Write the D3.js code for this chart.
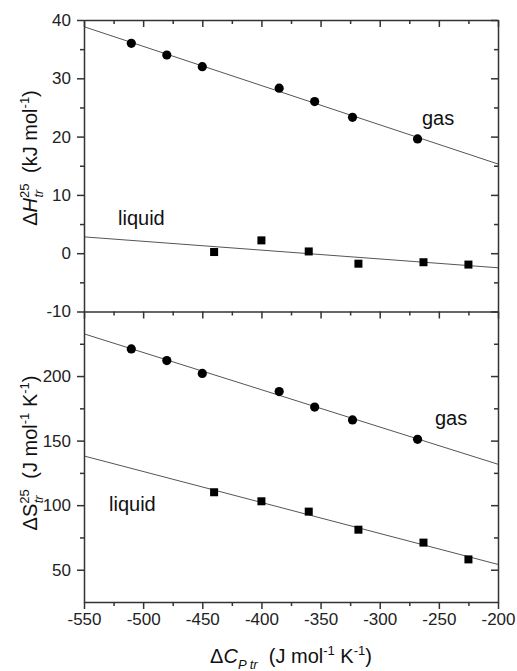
<!DOCTYPE html>
<html>
<head>
<meta charset="utf-8">
<script src="https://cdn.jsdelivr.net/npm/d3@7"></script>
<style>
  body { margin: 0; background: #fff; }
  svg { font-family: "Liberation Sans", Arial, sans-serif; }
  .axis path, .axis line { stroke: #333; stroke-width: 1.5; }
  .axis text { font-size: 17px; fill: #222; font-family: "Liberation Sans", Arial, sans-serif; }
</style>
</head>
<body>
<div id="chart"></div>
<script>
'use strict';

// data
const xGas = [-510, -480, -450, -385, -355, -323, -268];
const xLiq = [-440, -400, -360, -318, -263, -225];
const dHGas = [36, 34, 32, 28.3, 26, 23.3, 19.6];
const dHLiq = [0.2, 2.2, 0.3, -1.8, -1.55, -1.95];
const dSGas = [221, 212, 202, 188, 176, 166, 151];
const dSLiq = [110, 103, 95, 81, 71, 58];

// fitted lines, values at the ends of the x range
const fitX = [-550, -200];
const dHGasFit = [38.85, 15.3];
const dHLiqFit = [2.8, -2.5];
const dSGasFit = [232.7, 131.7];
const dSLiqFit = [138.1, 54.1];

// ticks
const xMajor = [-550, -500, -450, -400, -350, -300, -250, -200];
const xMinor = [-525, -475, -425, -375, -325, -275, -225];
const hMajor = [-10, 0, 10, 20, 30, 40];
const hMinor = [-5, 5, 15, 25, 35];
const sMajor = [50, 100, 150, 200];
const sMinor = [75, 125, 175, 225];

const width = 517;
const height = 671;
const left = 84, right = 498;

// plain hyphen for negatives, like the original
const fmt = d => String(d);

const svg = d3.select('#chart')
    .append('svg')
    .attr('width', width)
    .attr('height', height);

const x = d3.scaleLinear().domain([-550, -200]).range([left, right]);
const yH = d3.scaleLinear().domain([-10, 40]).range([311.5, 20]);
const yS = d3.scaleLinear().domain([25, 250]).range([602, 311.5]);

function drawAxes(y, major, minor, withXLabels) {
    const top = y.range()[1];
    const bottom = y.range()[0];

    // left: outward ticks with labels
    svg.append('g').attr('class', 'axis')
        .attr('transform', `translate(${left},0)`)
        .call(d3.axisLeft(y).tickValues(major).tickSize(7).tickSizeOuter(0).tickPadding(6).tickFormat(fmt));
    svg.append('g').attr('class', 'axis')
        .attr('transform', `translate(${left},0)`)
        .call(d3.axisLeft(y).tickValues(minor).tickSize(4).tickFormat(''))
        .select('.domain').remove();

    // right: inward ticks
    svg.append('g').attr('class', 'axis')
        .attr('transform', `translate(${right},0)`)
        .call(d3.axisRight(y).tickValues(major).tickSize(-7).tickSizeOuter(0).tickFormat(''));
    svg.append('g').attr('class', 'axis')
        .attr('transform', `translate(${right},0)`)
        .call(d3.axisRight(y).tickValues(minor).tickSize(-4).tickFormat(''))
        .select('.domain').remove();

    // top: inward ticks
    svg.append('g').attr('class', 'axis')
        .attr('transform', `translate(0,${top})`)
        .call(d3.axisTop(x).tickValues(xMajor).tickSize(-7).tickSizeOuter(0).tickFormat(''));
    svg.append('g').attr('class', 'axis')
        .attr('transform', `translate(0,${top})`)
        .call(d3.axisTop(x).tickValues(xMinor).tickSize(-4).tickFormat(''))
        .select('.domain').remove();

    if (withXLabels) {
        svg.append('g').attr('class', 'axis')
            .attr('transform', `translate(0,${bottom})`)
            .call(d3.axisBottom(x).tickValues(xMajor).tickSize(7).tickSizeOuter(0).tickPadding(4).tickFormat(fmt));
        svg.append('g').attr('class', 'axis')
            .attr('transform', `translate(0,${bottom})`)
            .call(d3.axisBottom(x).tickValues(xMinor).tickSize(4).tickFormat(''))
            .select('.domain').remove();
    }
}

function drawFit(y, values) {
    const line = d3.line()
        .x((d, i) => x(fitX[i]))
        .y(d => y(d));
    svg.append('path')
        .datum(values)
        .attr('d', line)
        .attr('fill', 'none')
        .attr('stroke', '#555')
        .attr('stroke-width', 1);
}

function drawCircles(y, xs, ys) {
    svg.append('g').selectAll('circle')
        .data(ys)
        .enter()
        .append('circle')
        .attr('cx', (d, i) => x(xs[i]))
        .attr('cy', d => y(d))
        .attr('r', 4.6)
        .attr('fill', '#000');
}

function drawSquares(y, xs, ys) {
    const s = 8;
    svg.append('g').selectAll('rect')
        .data(ys)
        .enter()
        .append('rect')
        .attr('x', (d, i) => x(xs[i]) - s / 2)
        .attr('y', d => y(d) - s / 2)
        .attr('width', s)
        .attr('height', s)
        .attr('fill', '#000');
}

// lines under the markers
drawFit(yH, dHGasFit);
drawFit(yH, dHLiqFit);
drawFit(yS, dSGasFit);
drawFit(yS, dSLiqFit);

drawAxes(yS, sMajor, sMinor, true);
drawAxes(yH, hMajor, hMinor, false);

drawCircles(yH, xGas, dHGas);
drawSquares(yH, xLiq, dHLiq);
drawCircles(yS, xGas, dSGas);
drawSquares(yS, xLiq, dSLiq);

// series labels
function label(text, px, py) {
    svg.append('text')
        .attr('x', px)
        .attr('y', py)
        .attr('font-size', 20)
        .attr('fill', '#111')
        .text(text);
}
label('gas', 422, 125);
label('liquid', 118, 225);
label('gas', 435, 425);
label('liquid', 109, 511);

// axis titles
const yTitleH = svg.append('text')
    .attr('transform', 'translate(37,158) rotate(-90)')
    .attr('text-anchor', 'middle')
    .attr('font-size', 20)
    .attr('fill', '#111');
yTitleH.append('tspan').text('Δ');
yTitleH.append('tspan').attr('font-style', 'italic').text('H');
yTitleH.append('tspan').attr('font-size', 13).attr('dy', -8).text('25');
yTitleH.append('tspan').attr('font-size', 13).attr('font-style', 'italic').attr('dx', -14).attr('dy', 14).text('tr');
yTitleH.append('tspan').attr('dy', -6).text('\u00a0\u00a0\u00a0(kJ mol');
yTitleH.append('tspan').attr('font-size', 13).attr('dy', -8).text('-1');
yTitleH.append('tspan').attr('dy', 8).text(')');

const yTitleS = svg.append('text')
    .attr('transform', 'translate(37,453) rotate(-90)')
    .attr('text-anchor', 'middle')
    .attr('font-size', 20)
    .attr('fill', '#111');
yTitleS.append('tspan').text('ΔS');
yTitleS.append('tspan').attr('font-size', 13).attr('dy', -8).text('25');
yTitleS.append('tspan').attr('font-size', 13).attr('font-style', 'italic').attr('dx', -14).attr('dy', 14).text('tr');
yTitleS.append('tspan').attr('dy', -6).text('\u00a0\u00a0\u00a0(J mol');
yTitleS.append('tspan').attr('font-size', 13).attr('dy', -8).text('-1');
yTitleS.append('tspan').attr('dy', 8).text(' K');
yTitleS.append('tspan').attr('font-size', 13).attr('dy', -8).text('-1');
yTitleS.append('tspan').attr('dy', 8).text(')');

const xTitle = svg.append('text')
    .attr('x', 291)
    .attr('y', 663)
    .attr('text-anchor', 'middle')
    .attr('font-size', 20)
    .attr('fill', '#111');
xTitle.append('tspan').text('Δ');
xTitle.append('tspan').attr('font-style', 'italic').text('C');
xTitle.append('tspan').attr('font-size', 13).attr('font-style', 'italic').attr('dy', 6).text('P tr');
xTitle.append('tspan').attr('dy', -6).text('\u00a0\u00a0(J mol');
xTitle.append('tspan').attr('font-size', 13).attr('dy', -8).text('-1');
xTitle.append('tspan').attr('dy', 8).text(' K');
xTitle.append('tspan').attr('font-size', 13).attr('dy', -8).text('-1');
xTitle.append('tspan').attr('dy', 8).text(')');
</script>
</body>
</html>
